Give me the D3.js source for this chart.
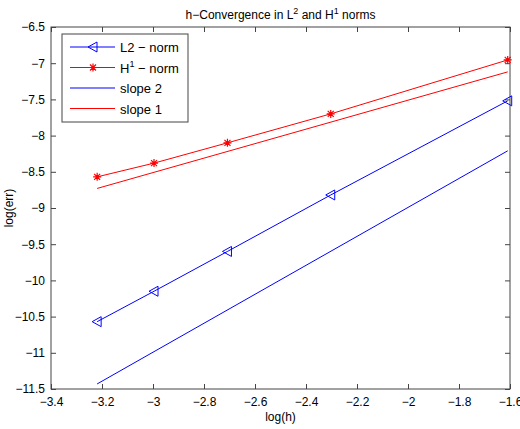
<!DOCTYPE html>
<html><head><meta charset="utf-8">
<script src="https://cdn.jsdelivr.net/npm/d3@7"></script>
<style>body{margin:0;background:#fff}text{font-family:"Liberation Sans",Arial,sans-serif}</style>
</head><body><svg id="c" width="520" height="429"></svg>
<script>
const logH = [-3.219, -2.996, -2.708, -2.303, -1.609]
const l2Err = [-10.57, -10.15, -9.6, -8.82, -7.52]
const h1Err = [-8.57, -8.38, -8.1, -7.7, -6.955]
const slopeX = [-3.219, -1.609]
const slope2 = [-11.43, -8.21]
const slope1 = [-8.73, -7.12]
const xTicks = [-3.4, -3.2, -3, -2.8, -2.6, -2.4, -2.2, -2, -1.8, -1.6]
const yTicks = [-6.5, -7, -7.5, -8, -8.5, -9, -9.5, -10, -10.5, -11, -11.5]

const svg = d3.select("#c")
const L = 51, R = 510, T = 27, B = 389
const x = d3.scaleLinear().domain([-3.4, -1.6]).range([L, R])
const y = d3.scaleLinear().domain([-11.5, -6.5]).range([B, T])
const fmt = d => String(d).replace("-", "\u2212")

// box + ticks
svg.append("rect").attr("x", L).attr("y", T).attr("width", R - L).attr("height", B - T)
    .attr("fill", "none").attr("stroke", "#444")
const gx = svg.append("g").attr("transform", `translate(0,${B})`)
    .call(d3.axisBottom(x).tickValues(xTicks).tickFormat(fmt).tickSize(-5).tickPadding(8))
const gxt = svg.append("g").attr("transform", `translate(0,${T})`)
    .call(d3.axisTop(x).tickValues(xTicks).tickFormat("").tickSize(-5))
const gy = svg.append("g").attr("transform", `translate(${L},0)`)
    .call(d3.axisLeft(y).tickValues(yTicks).tickFormat(fmt).tickSize(-5).tickPadding(6))
const gyr = svg.append("g").attr("transform", `translate(${R},0)`)
    .call(d3.axisRight(y).tickValues(yTicks).tickFormat("").tickSize(-5))
for (const g of [gx, gxt, gy, gyr]) {
    g.select(".domain").remove()
    g.selectAll("line").attr("stroke", "#444")
    g.selectAll("text").attr("font-size", 12).attr("fill", "#000")
}

const line = d3.line().x(d => x(d[0])).y(d => y(d[1]))
const draw = (xs, ys, c) => svg.append("path").datum(xs.map((v, i) => [v, ys[i]]))
    .attr("d", line).attr("fill", "none").attr("stroke", c).attr("stroke-width", 1)
draw(slopeX, slope2, "#00f")
draw(slopeX, slope1, "#f00")
draw(logH, l2Err, "#00f")
draw(logH, h1Err, "#f00")

const tri = (g, cx, cy) => g.append("path")
    .attr("d", `M${cx - 5},${cy}L${cx + 4},${cy - 5}L${cx + 4},${cy + 5}Z`)
    .attr("fill", "none").attr("stroke", "#00f")
const star = (g, cx, cy) => g.append("path")
    .attr("d", `M${cx - 4},${cy}h8M${cx},${cy - 4}v8M${cx - 3},${cy - 3}l6,6M${cx - 3},${cy + 3}l6,-6`)
    .attr("stroke", "#f00").attr("stroke-width", 1.2)
logH.forEach((v, i) => { tri(svg, x(v), y(l2Err[i])); star(svg, x(v), y(h1Err[i])) })

// title and labels
const title = svg.append("text").attr("x", (L + R) / 2).attr("y", 19).attr("text-anchor", "middle").attr("font-size", 12)
title.append("tspan").text("h\u2212Convergence in L")
title.append("tspan").attr("dy", -5).attr("font-size", 9).text("2")
title.append("tspan").attr("dy", 5).text(" and H")
title.append("tspan").attr("dy", -5).attr("font-size", 9).text("1")
title.append("tspan").attr("dy", 5).text(" norms")
svg.append("text").attr("x", (L + R) / 2).attr("y", 421).attr("text-anchor", "middle").attr("font-size", 12).text("log(h)")
svg.append("text").attr("transform", `translate(13,${(T + B) / 2}) rotate(-90)`).attr("text-anchor", "middle").attr("font-size", 12).text("log(err)")

// legend
const lg = svg.append("g").attr("transform", "translate(62,34)")
lg.append("rect").attr("width", 126).attr("height", 88).attr("fill", "#fff").attr("stroke", "#444")
const items = [["L2 \u2212 norm", "#00f", "tri"], ["H", "#f00", "star"], ["slope 2", "#00f", null], ["slope 1", "#f00", null]]
items.forEach((it, i) => {
    const yy = 13 + i * 20.5
    lg.append("line").attr("x1", 8).attr("x2", 53).attr("y1", yy).attr("y2", yy).attr("stroke", it[1])
    if (it[2] === "tri") tri(lg, 31, yy)
    if (it[2] === "star") star(lg, 31, yy)
    const t = lg.append("text").attr("x", 58).attr("y", yy + 5).attr("font-size", 13)
    if (i === 1) {
        t.append("tspan").text("H")
        t.append("tspan").attr("dy", -6).attr("font-size", 9).text("1")
        t.append("tspan").attr("dy", 6).text(" \u2212 norm")
    } else t.text(it[0])
})
</script></body></html>
